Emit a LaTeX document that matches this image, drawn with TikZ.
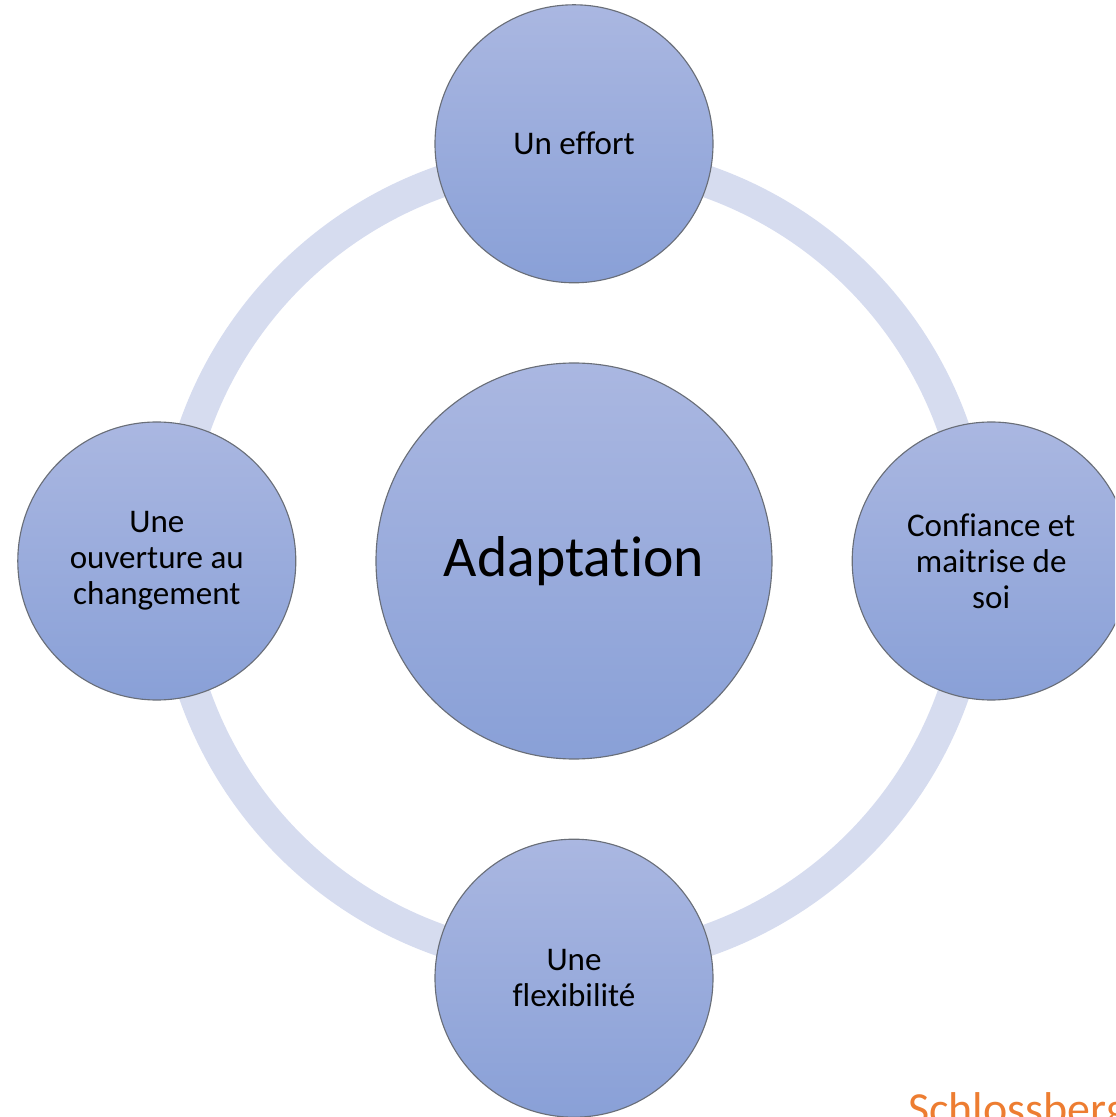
\documentclass[tikz,border=0pt]{standalone}
\usepackage{fontspec}
\setmainfont{Carlito}[Ligatures=NoCommon]
\usepackage{xcolor}
\definecolor{ringblue}{RGB}{214,220,239}
\definecolor{topblue}{RGB}{170,183,225}
\definecolor{botblue}{RGB}{137,160,215}
\definecolor{rimgray}{RGB}{105,110,120}
\definecolor{signorange}{RGB}{237,125,49}

\begin{document}
\begin{tikzpicture}[
		bubble/.style={circle,draw=rimgray,line width=0.8pt,top color=topblue,bottom color=botblue,
			minimum size=6.95cm,inner sep=0pt,align=center,font=\fontsize{23.5}{25.6}\selectfont},
		hub/.style={bubble,minimum size=9.9cm,font=\fontsize{41}{46}\selectfont}]
		\useasboundingbox(-14.35,-13.9)rectangle(13.525,14.025);
		\clip(-14.35,-13.9)rectangle(13.525,14.025);
		\draw[ringblue,line width=0.8cm](0,0)circle(10.05);
		\node[hub](adapt)at(0,0){Adaptation};
		\node[bubble](effort)at(0,10.43){Un effort};
		\node[bubble](confiance)at(10.43,0){Confiance et\\maitrise de\\soi};
		\node[bubble](flex)at(0,-10.43){Une\\flexibilité};
		\node[bubble](ouverture)at(-10.43,0){Une\\ouverture au\\changement};
		\node[anchor=base west,text=signorange,inner sep=0pt,font=\fontsize{32.7}{38}\selectfont](source)at(8.35,-14.075){Schlossberg};
		\end{tikzpicture}
\end{document}
